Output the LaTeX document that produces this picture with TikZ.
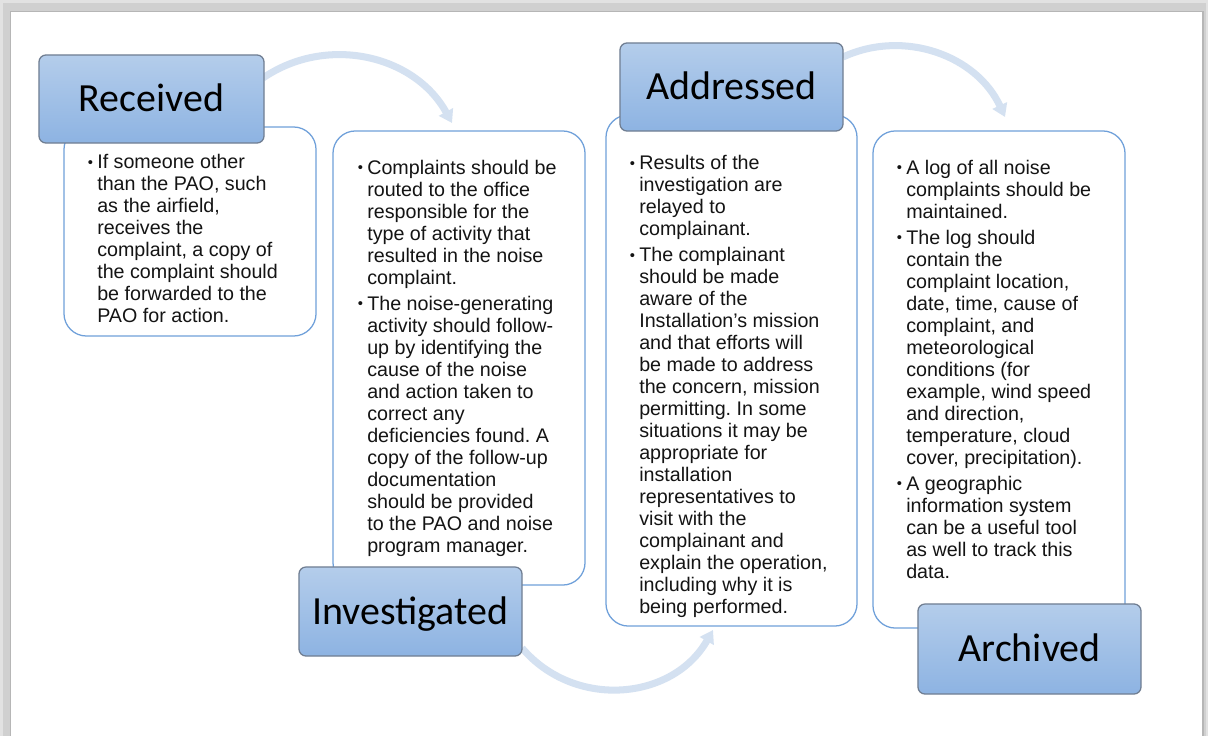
\documentclass[tikz,border=0pt]{standalone}
\usepackage{fontspec}
\setmainfont{Liberation Sans}
\newfontfamily\headfont{Carlito}
\usetikzlibrary{arrows.meta}
\definecolor{hdtop}{RGB}{180,205,235}
\definecolor{hdbot}{RGB}{141,179,226}
\definecolor{hdline}{RGB}{112,126,146}
\definecolor{boxline}{RGB}{111,160,218}
\definecolor{arrowc}{RGB}{212,225,241}
\definecolor{fa}{RGB}{226,226,226}
\definecolor{fb}{RGB}{208,208,208}
\definecolor{fc}{RGB}{182,182,182}
\definecolor{txt}{RGB}{20,20,20}
\frenchspacing
\newcommand{\bul}{\makebox[0pt][r]{\raisebox{1pt}{\fontsize{10.5pt}{10.5pt}\selectfont\textbullet}\hspace{3pt}}}
\newcommand{\bodytext}[1]{\begin{minipage}[t]{6cm}\fontsize{14pt}{15.65pt}\selectfont\frenchspacing\raggedright #1\end{minipage}}
\begin{document}
\begin{tikzpicture}[x=0.025cm,y=-0.025cm,
  tbox/.style={draw=boxline, line width=0.9pt, fill=white, rounded corners=16pt, inner sep=0pt},
  head/.style={draw=hdline, line width=0.9pt, top color=hdtop, bottom color=hdbot, rounded corners=5pt,
    font=\headfont\fontsize{28.4pt}{30pt}\selectfont, text height=18.3pt, text depth=0pt, inner sep=0pt, text=black},
  body/.style={anchor=base west, inner sep=0pt, text=txt},
  flow/.style={draw=arrowc, line width=5pt, -{Triangle[length=9pt,width=11pt]}}]
\useasboundingbox (0,0) rectangle (1208,736);
% page frame
\fill[fa] (0,0) rectangle (1208,736);
\fill[fb] (3,3) rectangle (1206,736);
\fill[fc] (10,11) rectangle (1204,736);
\fill[white] (11,12) rectangle (1202,736);
% arcs
\coordinate (a1s) at (263,78);
\coordinate (a1e) at (452,123);
\coordinate (a2s) at (522,648);
\coordinate (a2e) at (713,630);
\coordinate (a3s) at (843,57);
\coordinate (a3e) at (1005,117);
\draw[flow] (a1s) .. controls (326.9,34.3) and (414.8,55.1) .. (a1e);
\draw[flow] (a2s) .. controls (574.7,709.7) and (672.9,700.6) .. (a2e);
\draw[flow] (a3s) .. controls (904.3,28.8) and (976.8,55.7) .. (a3e);
% text boxes
\node[tbox, minimum width=6.3cm, minimum height=5.225cm] (rtx) at (190,231.5) {};
\node[tbox, minimum width=6.3cm, minimum height=11.35cm] (itx) at (459,358) {};
\node[tbox, minimum width=6.275cm, minimum height=12.775cm] (atx) at (731.5,370.5) {};
\node[tbox, minimum width=6.3cm, minimum height=12.425cm] (vtx) at (999,379.5) {};
% texts
\node[body] (rt) at (97,168.5) {\bodytext{\bul If someone other\\
than the PAO, such\\
as the airfield,\\
receives the\\
complaint, a copy of\\
the complaint should\\
be forwarded to the\\
PAO for action.}};
\node[body] (it) at (367,174) {\bodytext{\bul Complaints should be\\
routed to the office\\
responsible for the\\
type of activity that\\
resulted in the noise\\
complaint.\\[2.9pt]
\bul The noise-generating\\
activity should follow-\\
up by identifying the\\
cause of the noise\\
and action taken to\\
correct any\\
deficiencies found. A\\
copy of the follow-up\\
documentation\\
should be provided\\
to the PAO and noise\\
program manager.}};
\node[body] (at) at (639,169.5) {\bodytext{\bul Results of the\\
investigation are\\
relayed to\\
complainant.\\[2.9pt]
\bul The complainant\\
should be made\\
aware of the\\
Installation’s mission\\
and that efforts will\\
be made to address\\
the concern, mission\\
permitting. In some\\
situations it may be\\
appropriate for\\
installation\\
representatives to\\
visit with the\\
complainant and\\
explain the operation,\\
including why it is\\
being performed.}};
\node[body] (vt) at (906,174) {\bodytext{\bul A log of all noise\\
complaints should be\\
maintained.\\[2.9pt]
\bul The log should\\
contain the\\
complaint location,\\
date, time, cause of\\
complaint, and\\
meteorological\\
conditions (for\\
example, wind speed\\
and direction,\\
temperature, cloud\\
cover, precipitation).\\[2.9pt]
\bul A geographic\\
information system\\
can be a useful tool\\
as well to track this\\
data.}};
% headers
\node[head, minimum width=5.625cm, minimum height=2.2cm] (rec) at (151.5,99) {Received};
\node[head, minimum width=5.575cm, minimum height=2.225cm] (inv) at (410.5,611.5) {Investigated};
\node[head, minimum width=5.575cm, minimum height=2.2cm] (add) at (731.5,87) {Addressed};
\node[head, minimum width=5.575cm, minimum height=2.25cm] (arv) at (1029.5,649) {Archived};
\end{tikzpicture}
\end{document}
